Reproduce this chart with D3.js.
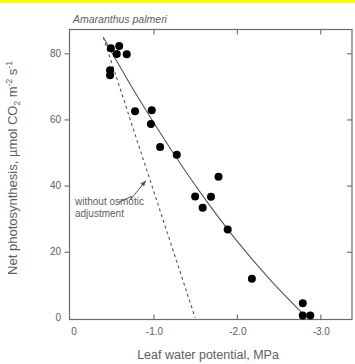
<!DOCTYPE html>
<html>
<head>
<meta charset="utf-8">
<script src="https://cdn.jsdelivr.net/npm/d3@7"></script>
<style>
  html, body { margin: 0; padding: 0; background: #fff; }
  svg { display: block; }
  text { font-family: "Liberation Sans", Arial, Helvetica, sans-serif; fill: #5e5e5e; }
</style>
</head>
<body>
<svg id="chart" width="355" height="364"></svg>
<script>
// ---- data ----
const title = "Amaranthus palmeri";
const xLabel = "Leaf water potential, MPa";
const xTicks = [0, -1, -2, -3];
const xTickLabels = ["0", "-1.0", "-2.0", "-3.0"];
const yTicks = [0, 20, 40, 60, 80];
const yTickLabels = ["0", "20", "40", "60", "80"];

// observed points: leaf water potential (MPa), net photosynthesis
const obsPsi = [-0.49, -0.59, -0.56, -0.68, -0.48, -0.48, -0.78, -0.98, -0.97, -1.08,
                -1.28, -1.50, -1.78, -1.69, -1.59, -1.89, -2.18, -2.79, -2.79, -2.88];
const obsA   = [81.5, 82.2, 79.8, 79.7, 74.9, 73.4, 62.5, 62.8, 58.6, 51.7,
                49.3, 36.7, 42.7, 36.6, 33.3, 26.7, 11.8, 4.4, 0.7, 0.7];

// fitted (solid) curve
const fitPsi = [-0.40, -0.80, -1.20, -1.60, -2.00, -2.40, -2.79];
const fitA   = [84.8, 67.3, 51.3, 36.6, 23.3, 11.5, 1.3];

// "without osmotic adjustment" (dashed) line
const noAdjPsi = [-0.40, -1.50];
const noAdjA   = [84.8, 0];

// annotation
const annotLines = ["without osmotic", "adjustment"];
const annotPsi = -0.06;
const annotA = [34.1, 30.5];
const arrowPsi = [-0.573, -0.739, -0.727, -0.906];
const arrowA   = [34.8, 36.8, 35.8, 41.4];

// ---- drawing ----
const svg = d3.select("#chart");
const W = 355, H = 364;
const m = { left: 70, right: 352, top: 29.5, bottom: 319.5 };

const x = d3.scaleLinear().domain([0, -3.38]).range([m.left, m.right]);
const y = d3.scaleLinear().domain([-0.5, 87.2]).range([m.bottom, m.top]);

// yellow strip at top
svg.append("rect").attr("x", 0).attr("y", 0).attr("width", W).attr("height", 3)
  .attr("fill", "#ffff00");

const axisColor = "#6a6a6a";

// frame
svg.append("rect")
  .attr("x", m.left - 0.5).attr("y", m.top)
  .attr("width", m.right - m.left + 0.5).attr("height", m.bottom - m.top)
  .attr("fill", "none").attr("stroke", axisColor).attr("stroke-width", 1.2);

// left axis (outward ticks) and labels
const yIn = yTicks.filter(d => d > 0);
const gL = svg.append("g").attr("transform", `translate(${m.left - 0.5},0)`)
  .call(d3.axisLeft(y).tickValues(yIn).tickSize(5).tickFormat(""));
gL.select(".domain").remove();
gL.selectAll("line").attr("stroke", axisColor).attr("stroke-width", 1.1);

svg.append("g").selectAll("text").data(yTicks).join("text")
  .attr("x", 61).attr("y", d => y(d) + 3.5)
  .attr("text-anchor", "end").attr("font-size", 10)
  .text((d, i) => yTickLabels[i]);

// right axis (inward ticks)
const gR = svg.append("g").attr("transform", `translate(${m.right},0)`)
  .call(d3.axisRight(y).tickValues(yIn).tickSize(-5).tickFormat(""));
gR.select(".domain").remove();
gR.selectAll("line").attr("stroke", axisColor).attr("stroke-width", 1.1);

// top and bottom axes (inward ticks)
const xIn = xTicks.filter(d => d < 0);
const gT = svg.append("g").attr("transform", `translate(0,${m.top})`)
  .call(d3.axisTop(x).tickValues(xIn).tickSize(-5).tickFormat(""));
gT.select(".domain").remove();
gT.selectAll("line").attr("stroke", axisColor).attr("stroke-width", 1.1);

const gB = svg.append("g").attr("transform", `translate(0,${m.bottom})`)
  .call(d3.axisBottom(x).tickValues(xIn).tickSize(-5).tickFormat(""));
gB.select(".domain").remove();
gB.selectAll("line").attr("stroke", axisColor).attr("stroke-width", 1.1);

svg.append("g").selectAll("text").data(xTicks).join("text")
  .attr("x", d => x(d) + (d === 0 ? 4 : 1))
  .attr("y", 335)
  .attr("text-anchor", "middle").attr("font-size", 10)
  .text((d, i) => xTickLabels[i]);

// axis titles
svg.append("text").attr("x", 208).attr("y", 359)
  .attr("text-anchor", "middle").attr("font-size", 12.5).text(xLabel);

const yl = svg.append("text")
  .attr("transform", `translate(17,168) rotate(-90)`)
  .attr("text-anchor", "middle").attr("font-size", 13);
yl.append("tspan").text("Net photosynthesis, \u00b5mol CO");
yl.append("tspan").attr("font-size", 8.5).attr("dy", 3).text("2");
yl.append("tspan").attr("dy", -3).text(" m");
yl.append("tspan").attr("font-size", 8.5).attr("dy", -5).text("-2");
yl.append("tspan").attr("dy", 5).text(" s");
yl.append("tspan").attr("font-size", 8.5).attr("dy", -5).text("-1");

// title
svg.append("text").attr("x", 73).attr("y", 23)
  .attr("font-size", 10.5).attr("font-style", "italic").text(title);

// dashed line
const line = d3.line().x(d => x(d[0])).y(d => y(d[1]));
svg.append("path")
  .datum(noAdjPsi.map((p, i) => [p, noAdjA[i]]))
  .attr("d", line).attr("fill", "none")
  .attr("stroke", "#555").attr("stroke-width", 1.1).attr("stroke-dasharray", "3,3");

// fitted curve
svg.append("path")
  .datum(fitPsi.map((p, i) => [p, fitA[i]]))
  .attr("d", line.curve(d3.curveMonotoneX)).attr("fill", "none")
  .attr("stroke", "#555").attr("stroke-width", 1.1);

// points
svg.append("g").selectAll("circle")
  .data(obsPsi.map((p, i) => [p, obsA[i]]))
  .join("circle")
  .attr("cx", d => x(d[0])).attr("cy", d => y(d[1])).attr("r", 4)
  .attr("fill", "#000");

// annotation
svg.append("g").selectAll("text").data(annotLines).join("text")
  .attr("x", x(annotPsi)).attr("y", (d, i) => y(annotA[i]))
  .attr("font-size", 10).text(d => d);

svg.append("defs").append("marker")
  .attr("id", "ah").attr("viewBox", "0 0 10 10").attr("refX", 9).attr("refY", 5)
  .attr("markerWidth", 6).attr("markerHeight", 6).attr("orient", "auto")
  .append("path").attr("d", "M0,1 L10,5 L0,9 z").attr("fill", "#555");

svg.append("path")
  .datum(arrowPsi.map((p, i) => [p, arrowA[i]]))
  .attr("d", d3.line().x(d => x(d[0])).y(d => y(d[1])))
  .attr("fill", "none").attr("stroke", "#555").attr("stroke-width", 1)
  .attr("marker-end", "url(#ah)");
</script>
</body>
</html>
